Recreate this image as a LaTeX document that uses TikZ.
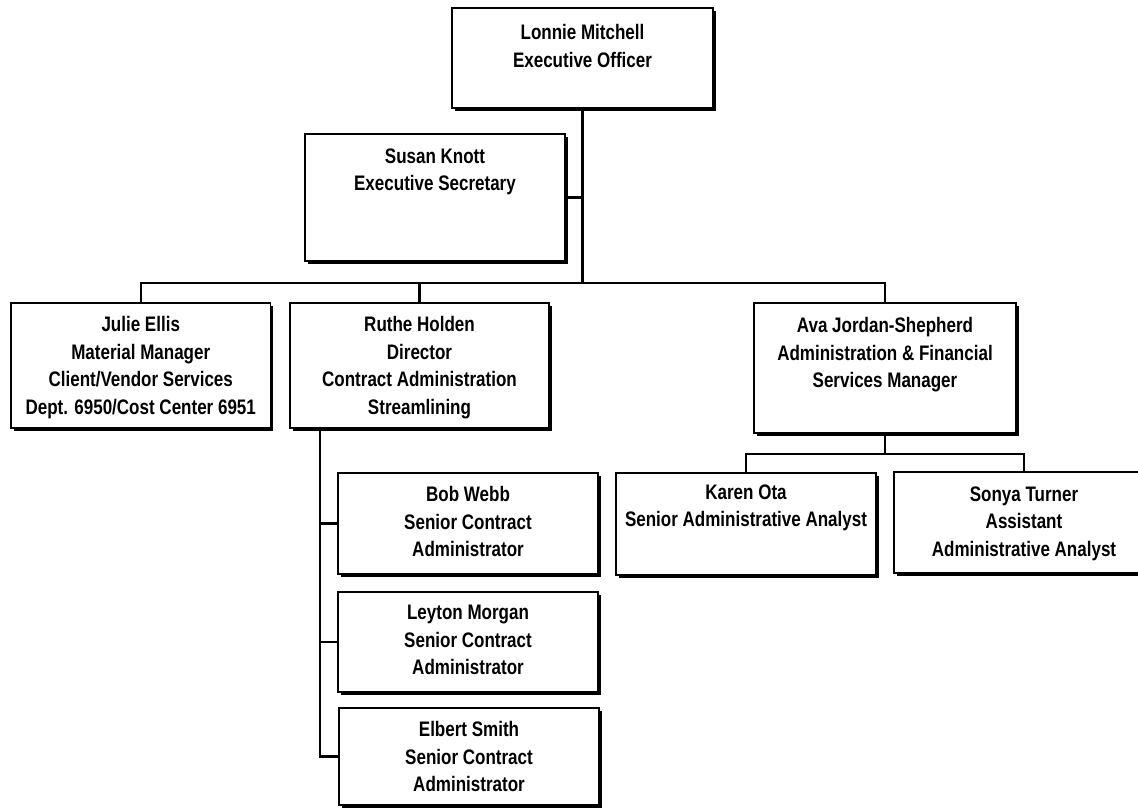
\documentclass[tikz,border=0pt]{standalone}
\usepackage{fontspec}
\setmainfont{Liberation Sans}[FakeStretch=0.81]
\usetikzlibrary{shadows,calc}
\tikzset{
  box/.style={draw=black, line width=1.4pt, fill=white, inner sep=0pt,
    drop shadow={shadow xshift=2.5pt, shadow yshift=-2.5pt, fill=black, opacity=1}},
  lbl/.style={inner sep=0pt, align=center, anchor=north,
    font=\fontsize{21pt}{27.5pt}\selectfont\bfseries},
  wire/.style={line width=2.2pt, line cap=rect}
}
\begin{document}
\begin{tikzpicture}[x=1pt,y=-1pt]
\useasboundingbox (0,0) rectangle (1138,807);
\clip (0,0) rectangle (1138,807);
\fill[white] (0,0) rectangle (1138,807);
% boxes
\node[box, minimum width=261pt, minimum height=100pt] (lonnie) at (582.5,58) {};
\node[box, minimum width=260pt, minimum height=127pt] (susan) at (435,197.5) {};
\node[box, minimum width=259.5pt, minimum height=125pt] (julie) at (140.75,365.5) {};
\node[box, minimum width=259pt, minimum height=125pt] (ruthe) at (419.5,365.5) {};
\node[box, minimum width=262pt, minimum height=130pt] (ava) at (885,368) {};
\node[box, minimum width=260pt, minimum height=102pt] (karen) at (746,524) {};
\node[box, minimum width=260pt, minimum height=101pt] (sonya) at (1024,522.5) {};
\node[box, minimum width=260pt, minimum height=101pt] (bob) at (468,523.5) {};
\node[box, minimum width=260pt, minimum height=100pt] (leyton) at (468,642) {};
\node[box, minimum width=260pt, minimum height=97pt] (elbert) at (469,756.5) {};
% labels
\node[lbl] (lonnieT) at ([yshift=-17pt]lonnie.north) {Lonnie Mitchell\\Executive Officer};
\node[lbl] (susanT) at ([yshift=-15pt]susan.north) {Susan Knott\\Executive Secretary};
\node[lbl] (julieT) at ([yshift=-14pt]julie.north) {Julie Ellis\\Material Manager\\Client/Vendor Services\\Dept. 6950/Cost Center 6951};
\node[lbl] (rutheT) at ([yshift=-14pt]ruthe.north) {Ruthe Holden\\Director\\Contract Administration\\Streamlining};
\node[lbl] (avaT) at ([yshift=-15pt]ava.north) {Ava Jordan-Shepherd\\Administration \& Financial\\Services Manager};
\node[lbl] (karenT) at ([yshift=-12pt]karen.north) {Karen Ota\\Senior Administrative Analyst};
\node[lbl] (sonyaT) at ([yshift=-15pt]sonya.north) {Sonya Turner\\Assistant\\Administrative Analyst};
\node[lbl] (bobT) at ([yshift=-14pt]bob.north) {Bob Webb\\Senior Contract\\Administrator};
\node[lbl] (leytonT) at ([yshift=-14pt]leyton.north) {Leyton Morgan\\Senior Contract\\Administrator};
\node[lbl] (elbertT) at ([yshift=-14pt]elbert.north) {Elbert Smith\\Senior Contract\\Administrator};
% connectors
\coordinate (bus) at (582.5,283);
\coordinate (rs) at ($(ruthe.south west)+(31,0)$);
\coordinate (ab) at ($(ava.south)+(0,20)$);
\draw[wire] (lonnie.south) -- (bus);
\draw[wire] (susan.east) -- (susan.east -| lonnie.south);
\draw[wire] (julie.north) |- (bus) -| (ava.north);
\draw[wire] (ruthe.north) -- (ruthe.north |- bus);
\draw[wire] (rs) |- (bob.west);
\draw[wire] (rs) |- (leyton.west);
\draw[wire] (rs) |- (elbert.west);
\draw[wire] (ava.south) -- (ab);
\draw[wire] (karen.north) |- (ab) -| (sonya.north);
\end{tikzpicture}
\end{document}
